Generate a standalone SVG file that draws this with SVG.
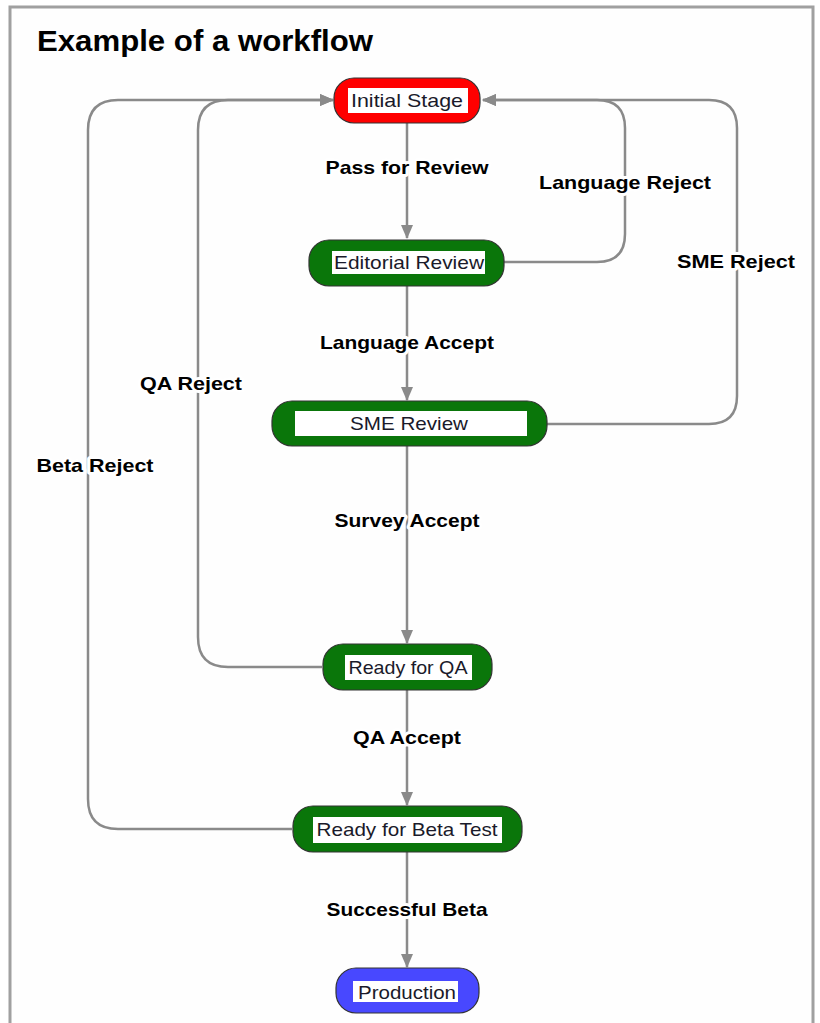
<svg xmlns="http://www.w3.org/2000/svg" width="820" height="1023" viewBox="0 0 820 1023">
<style>
.frame{fill:#fefefe;stroke:#a0a0a0;stroke-width:3}
.title{font-family:"Liberation Sans",Arial,sans-serif;font-weight:bold;font-size:30px;fill:#000}
.node{stroke:#333;stroke-width:1.2}
.green{fill:#0a760a}
.red{fill:#ff0000}
.blue{fill:#4848ff}
.inner{fill:#fff;stroke:none}
.ntext{font-family:"Liberation Sans",Arial,sans-serif;font-size:19px;fill:#1a1a2a;text-anchor:middle}
.conn{fill:none;stroke:#8a8a8a;stroke-width:2.5}
.lbl{font-family:"Liberation Sans",Arial,sans-serif;font-weight:bold;font-size:19px;fill:#000;text-anchor:middle;stroke:#fff;stroke-width:6;paint-order:stroke;stroke-linejoin:round}
</style>
<defs>
<marker id="arr" markerUnits="userSpaceOnUse" markerWidth="14" markerHeight="12" refX="13" refY="6" orient="auto">
<path d="M0,0 L14,6 L0,12 Z" fill="#8a8a8a"/>
</marker>
</defs>
<rect class="frame" x="10" y="7" width="803" height="1030"/>
<text class="title" x="37" y="51" textLength="336" lengthAdjust="spacingAndGlyphs">Example of a workflow</text>

<g id="connectors">
<path class="conn" marker-end="url(#arr)" d="M407,123 V238"/>
<path class="conn" marker-end="url(#arr)" d="M407,286 V400"/>
<path class="conn" marker-end="url(#arr)" d="M407,446 V643"/>
<path class="conn" marker-end="url(#arr)" d="M407,690 V805"/>
<path class="conn" marker-end="url(#arr)" d="M407,852 V967"/>
<path class="conn" marker-end="url(#arr)" d="M504,262 H597 Q625,262 625,234 V128 Q625,100 597,100 H483"/>
<path class="conn" marker-end="url(#arr)" d="M547,424 H709 Q737,424 737,396 V128 Q737,100 709,100 H483"/>
<path class="conn" marker-end="url(#arr)" d="M322,667 H228 Q198,667 198,637 V130 Q198,100 228,100 H333"/>
<path class="conn" marker-end="url(#arr)" d="M292,829 H118 Q88,829 88,799 V130 Q88,100 118,100 H333"/>
<text class="lbl" x="407" y="174" textLength="163" lengthAdjust="spacingAndGlyphs">Pass for Review</text>
<text class="lbl" x="407" y="349" textLength="174" lengthAdjust="spacingAndGlyphs">Language Accept</text>
<text class="lbl" x="407" y="527" textLength="145" lengthAdjust="spacingAndGlyphs">Survey Accept</text>
<text class="lbl" x="407" y="744" textLength="108" lengthAdjust="spacingAndGlyphs">QA Accept</text>
<text class="lbl" x="407" y="916" textLength="161" lengthAdjust="spacingAndGlyphs">Successful Beta</text>
<text class="lbl" x="625" y="189" textLength="172" lengthAdjust="spacingAndGlyphs">Language Reject</text>
<text class="lbl" x="736" y="268" textLength="118" lengthAdjust="spacingAndGlyphs">SME Reject</text>
<text class="lbl" x="191" y="390" textLength="102" lengthAdjust="spacingAndGlyphs">QA Reject</text>
<text class="lbl" x="95" y="472" textLength="117" lengthAdjust="spacingAndGlyphs">Beta Reject</text>
</g>

<g id="initial">
<rect class="node red" x="334" y="78" width="146" height="45" rx="20"/>
<rect class="inner" x="348" y="88" width="120" height="25"/>
<text class="ntext" x="407" y="107" textLength="112" lengthAdjust="spacingAndGlyphs">Initial Stage</text>
</g>
<g id="editorial">
<rect class="node green" x="309" y="240" width="195" height="46" rx="20"/>
<rect class="inner" x="332" y="251" width="153" height="23"/>
<text class="ntext" x="409" y="269" textLength="150" lengthAdjust="spacingAndGlyphs">Editorial Review</text>
</g>
<g id="sme">
<rect class="node green" x="272" y="401" width="275" height="45" rx="20"/>
<rect class="inner" x="295" y="411" width="232" height="25"/>
<text class="ntext" x="409" y="430" textLength="118" lengthAdjust="spacingAndGlyphs">SME Review</text>
</g>
<g id="qa">
<rect class="node green" x="323" y="644" width="169" height="46" rx="20"/>
<rect class="inner" x="345" y="655" width="127" height="25"/>
<text class="ntext" x="408" y="674" textLength="119" lengthAdjust="spacingAndGlyphs">Ready for QA</text>
</g>
<g id="beta">
<rect class="node green" x="293" y="806" width="229" height="46" rx="20"/>
<rect class="inner" x="313" y="817" width="189" height="26"/>
<text class="ntext" x="407" y="836" textLength="181" lengthAdjust="spacingAndGlyphs">Ready for Beta Test</text>
</g>
<g id="production">
<rect class="node blue" x="336" y="968" width="143" height="45" rx="20"/>
<rect class="inner" x="353" y="981" width="105" height="21"/>
<text class="ntext" x="407" y="999" textLength="98" lengthAdjust="spacingAndGlyphs">Production</text>
</g>
</svg>
